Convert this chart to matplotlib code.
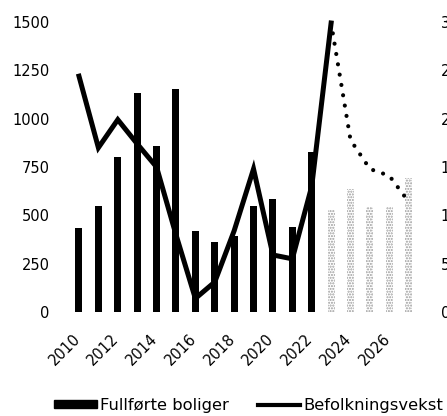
import matplotlib
matplotlib.use("Agg")
import matplotlib.pyplot as plt
import matplotlib.transforms as mtrans
from matplotlib.patches import Patch
from matplotlib.lines import Line2D

plt.rcParams['font.family'] = ['DejaVu Sans']
plt.rcParams['hatch.linewidth'] = 1.0

years_hist = [2010, 2011, 2012, 2013, 2014, 2015, 2016, 2017, 2018, 2019, 2020, 2021, 2022]
boliger_hist = [436, 550, 800, 1131, 859, 1155, 419, 364, 395, 550, 585, 440, 829]
years_fc = [2023, 2024, 2025, 2026, 2027]
boliger_fc = [528, 636, 545, 545, 692]

years_pop = [2010, 2011, 2012, 2013, 2014, 2015, 2016, 2017, 2018, 2019, 2020, 2021, 2022, 2023]
befolkning = [244, 170, 199, 174, 150, 80, 14, 31, 84, 148, 59, 55, 130, 299]
years_pop_fc = [2023, 2024, 2025, 2026, 2027]
befolkning_fc = [299, 178, 148, 141, 114]

xtick_years = [2010, 2012, 2014, 2016, 2018, 2020, 2022, 2024, 2026]
left_ticks = [0, 250, 500, 750, 1000, 1250, 1500]
right_ticks = [0, 50, 100, 150, 200, 250, 300]

fig = plt.figure(figsize=(4.47, 4.16), dpi=100)
ax = fig.add_axes([0.155, 0.25, 0.781, 0.697])
ax2 = ax.twinx()

bw = 0.36
ax.bar(years_hist, boliger_hist, width=bw, color='black', zorder=2)
ax.bar(years_fc, boliger_fc, width=bw, facecolor='white', edgecolor='#9a9a9a',
       hatch='......', linewidth=0, zorder=2)

ax.set_xlim(2009.5, 2027.5)
ax.set_ylim(0, 1500)
ax.set_yticks(left_ticks)
ax.set_xticks(xtick_years)
ax.set_xticklabels([str(y) for y in xtick_years], rotation=45, ha='right', va='top')
ax.tick_params(axis='both', length=0, labelsize=10.5)
ax.tick_params(axis='y', pad=14)
ax.tick_params(axis='x', pad=13.5)
off = mtrans.ScaledTranslation(4/100, 0, fig.dpi_scale_trans)
for lab in ax.get_xticklabels():
    lab.set_transform(lab.get_transform() + off)

ax2.plot(years_pop, befolkning, color='black', lw=3.6, solid_joinstyle='miter', zorder=4, clip_on=False)
ax2.plot(years_pop_fc, befolkning_fc, color='black', lw=3.0, linestyle=(0, (0.01, 2.5)),
         dash_capstyle='round', zorder=4, clip_on=False)
ax2.set_ylim(0, 300)
ax2.set_yticks(right_ticks)
ax2.tick_params(axis='y', length=0, labelsize=10.5, pad=16)

for a in (ax, ax2):
    for s in a.spines.values():
        s.set_visible(False)

handles = [Patch(facecolor='black', edgecolor='black'),
           Line2D([0], [0], color='black', lw=3.0)]
fig.legend(handles, ['Fullførte boliger', 'Befolkningsvekst'], loc='center',
           bbox_to_anchor=(0.557, 0.025), ncol=2, frameon=False, fontsize=11.8,
           handlelength=2.6, handleheight=0.42, handletextpad=0.2, columnspacing=1.75,
           borderpad=0, borderaxespad=0)

fig.savefig('out.png', dpi=100)
